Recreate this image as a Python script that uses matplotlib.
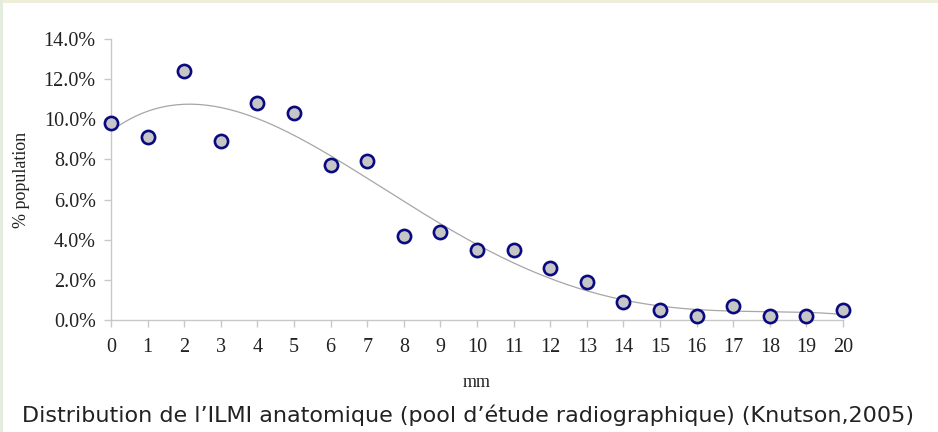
import numpy as np
import matplotlib.pyplot as plt

# measured thickness (mm) and share of population (%)
mm = list(range(21))
population = [9.8, 9.1, 12.4, 8.9, 10.8, 10.3, 7.7, 7.9, 4.2, 4.4, 3.5,
              3.5, 2.6, 1.9, 0.9, 0.5, 0.2, 0.7, 0.2, 0.2, 0.5]
y_ticks = [0, 2, 4, 6, 8, 10, 12, 14]
caption = "Distribution de l\u2019ILMI anatomique (pool d\u2019\u00e9tude radiographique) (Knutson,2005)"

fig = plt.figure(figsize=[9.38, 4.32], dpi=100)
fig.patch.set_facecolor('white')

# thin tinted frame round the slide
fig.add_artist(plt.Rectangle((0, 1 - 3 / 432), 1, 3 / 432, transform=fig.transFigure,
                             color='#efeedb', lw=0))
fig.add_artist(plt.Rectangle((0, 0), 3 / 938, 1, transform=fig.transFigure,
                             color='#e3ecdd', lw=0))

ax = fig.add_axes([111 / 938, 1 - 320 / 432, (843 - 111) / 938, (320 - 39) / 432])

# polynomial trend line, like the spreadsheet one
coef = np.polyfit(mm, population, 4)
xs = np.linspace(0, 20, 200)
ax.plot(xs, np.polyval(coef, xs), color='#a6a6a6', lw=0.9, zorder=2)

ax.plot(mm, population, 'o', markersize=9.5, markerfacecolor='#c6c6c6',
        markeredgecolor='#0a0a80', markeredgewidth=1.9, clip_on=False, zorder=3)

ax.set_xlim(0, 20)
ax.set_ylim(0, 14)
ax.set_xticks(mm)
ax.set_yticks(y_ticks)
ax.set_yticklabels(["%.1f%%" % v for v in y_ticks])

for side in ['top', 'right']:
    ax.spines[side].set_visible(False)
for side in ['left', 'bottom']:
    ax.spines[side].set_color('#c8c8c8')
    ax.spines[side].set_linewidth(1)

ax.tick_params(axis='both', direction='out', length=5, width=1, color='#c8c8c8',
               labelsize=14.5, labelcolor='#222222')
ax.tick_params(axis='x', pad=8)
ax.tick_params(axis='y', pad=6)
for lab in ax.get_xticklabels() + ax.get_yticklabels():
    lab.set_family('Liberation Serif')

ax.set_xlabel("mm", family='Liberation Serif', fontsize=13, color='#222222', labelpad=12)
ax.set_ylabel("% population", family='Liberation Serif', fontsize=13, color='#222222',
              labelpad=10)

fig.text(468 / 938, 1 - 415 / 432, caption, family='DejaVu Sans', fontsize=16,
         color='#222222', ha='center', va='center')

fig.savefig('out.png', dpi=100)
